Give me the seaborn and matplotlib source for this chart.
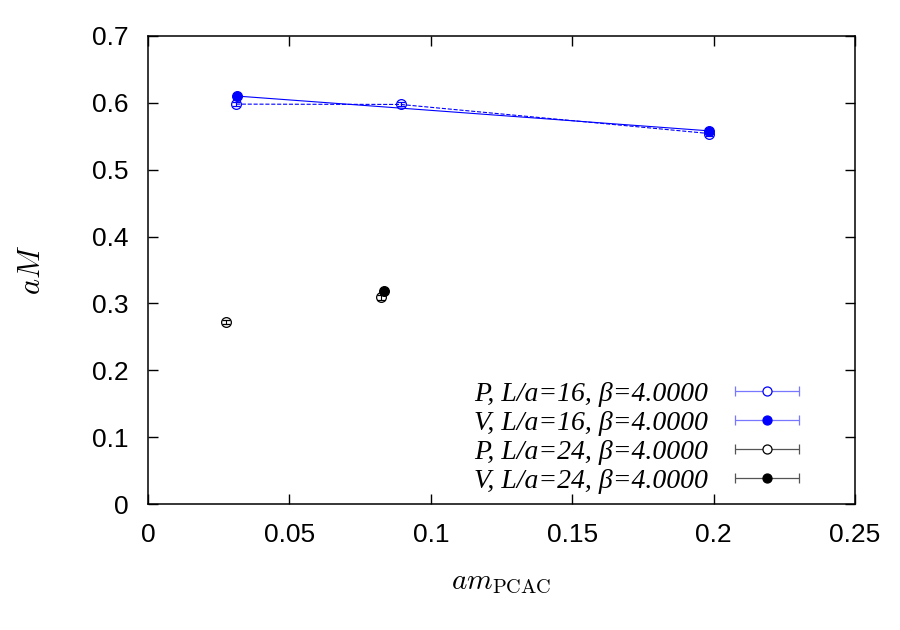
import matplotlib
matplotlib.use("Agg")
import matplotlib.pyplot as plt
import seaborn as sns
import pandas as pd
from matplotlib.lines import Line2D
from matplotlib.legend_handler import HandlerLine2D, HandlerTuple

# data
p16_x = [0.0311, 0.0893, 0.1985]
p16_y = [0.598, 0.5975, 0.554]
p16_err = [0.003, 0.003, 0.003]
v16_x = [0.0316, 0.1985]
v16_y = [0.610, 0.558]
v16_err = [0.003, 0.003]
p24_x = [0.0276, 0.0824]
p24_y = [0.272, 0.309]
p24_err = [0.003, 0.004]
v24_x = [0.0834]
v24_y = [0.319]
v24_err = [0.003]

labels = ["P, L/a=16, β=4.0000",
          "V, L/a=16, β=4.0000",
          "P, L/a=24, β=4.0000",
          "V, L/a=24, β=4.0000"]

sns.set_style("ticks", {'axes.edgecolor': 'black', 'text.color': 'black',
                        'xtick.color': 'black', 'ytick.color': 'black',
                        'axes.labelcolor': 'black'})
plt.rcParams['font.family'] = ['Liberation Sans', 'DejaVu Sans']
plt.rcParams['mathtext.fontset'] = 'cm'

fig = plt.figure(figsize=(9, 6.3), dpi=100)
ax = fig.add_axes([0.1644, 0.2, 0.7856, 0.743])

blue = '#0000ff'
black = '#000000'

# connecting lines
sns.lineplot(data=pd.DataFrame({'x': p16_x, 'y': p16_y}), x='x', y='y', ax=ax,
             color=blue, lw=0.8, linestyle='--', sort=False)
sns.lineplot(data=pd.DataFrame({'x': v16_x, 'y': v16_y}), x='x', y='y', ax=ax,
             color=blue, lw=0.8, sort=False)

series = [(p16_x, p16_y, p16_err, blue, 'none'),
          (v16_x, v16_y, v16_err, blue, blue),
          (p24_x, p24_y, p24_err, black, 'none'),
          (v24_x, v24_y, v24_err, black, black)]
for xs, ys, es, c, fc in series:
    ax.errorbar(xs, ys, yerr=es, fmt='o', color=c, mfc=fc, mec=c, ms=7,
                mew=0.9, elinewidth=0.8, capsize=3, capthick=0.8, zorder=3)

# legend handles: horizontal bar with caps + marker on top
handles = []
hmap = {}
for (xs, ys, es, c, fc), lab in zip(series, labels):
    barc = '#7777ff' if c == blue else '#555555'
    bar = Line2D([], [], color=barc, lw=0.9, marker='|', ms=7, mew=0.9)
    mk = Line2D([], [], color=c, lw=0, marker='o', mfc=fc if fc != 'none' else 'white',
                mec=c, ms=6.5, mew=0.9)
    hmap[bar] = HandlerLine2D(numpoints=2)
    hmap[mk] = HandlerLine2D(numpoints=1)
    handles.append((bar, mk))
hmap[tuple] = HandlerTuple(ndivide=1)
leg = ax.legend(handles, labels, handler_map=hmap,
                loc='lower right', markerfirst=False, frameon=False,
                prop={'family': 'Liberation Serif', 'style': 'italic', 'size': 20},
                handlelength=2.9, handletextpad=0.65, labelspacing=0.13,
                borderpad=0, borderaxespad=0, bbox_to_anchor=(0.932, 0.022))

ax.set_xlim(0, 0.25)
ax.set_ylim(0, 0.7)
ax.set_xticks([0, 0.05, 0.1, 0.15, 0.2, 0.25])
ax.set_xticklabels(['0', '0.05', '0.1', '0.15', '0.2', '0.25'])
ax.set_yticks([0, 0.1, 0.2, 0.3, 0.4, 0.5, 0.6, 0.7])
ax.set_yticklabels(['0', '0.1', '0.2', '0.3', '0.4', '0.5', '0.6', '0.7'])
ax.tick_params(direction='in', top=True, right=True, labelsize=19, length=7,
               width=1, pad=14)
for s in ax.spines.values():
    s.set_linewidth(1.1)
ax.set_xlabel(r"$am_{\mathrm{PCAC}}$", fontsize=21, labelpad=15)
ax.set_ylabel(r"$aM$", fontsize=22, labelpad=32)

fig.savefig("out.png", dpi=100)
